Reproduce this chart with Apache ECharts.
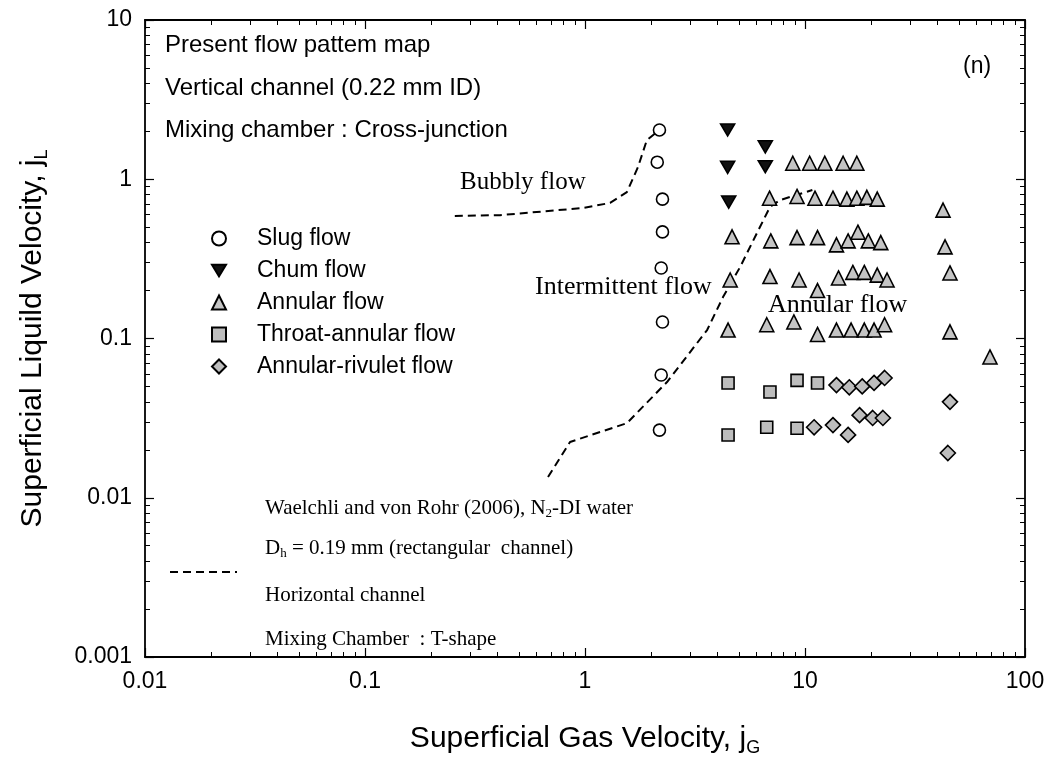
<!DOCTYPE html>
<html>
<head>
<meta charset="utf-8">
<title>Flow pattern map</title>
<script src="https://cdn.jsdelivr.net/npm/echarts@6/dist/echarts.min.js"></script>
<style>
  html, body { margin: 0; padding: 0; background: #fff; }
  #chart { width: 1052px; height: 765px; }
</style>
</head>
<body>
<div id="chart"></div>
<script>
// 轴刻度
const xTicks = [0.01, 0.1, 1, 10, 100];
const yTicks = [0.001, 0.01, 0.1, 1, 10];

// Slug flow
const slugX = [2.18, 2.13, 2.25, 2.25, 2.22, 2.25, 2.22, 2.18];
const slugY = [2.04, 1.28, 0.75, 0.467, 0.277, 0.127, 0.059, 0.0266];

// Churn flow
const churnX = [4.45, 6.6, 4.45, 6.6, 4.5];
const churnY = [2.04, 1.6, 1.19, 1.2, 0.72];

// Annular flow
const annularX = [
  8.8, 10.5, 12.3, 14.9, 17.2,
  6.9, 9.2, 11.1, 13.4, 15.5, 17.2, 19.1, 21.3, 42.4,
  4.66, 6.99, 9.2, 11.4, 13.9, 15.7, 17.4, 19.4, 22.1, 43.3,
  4.57, 6.93, 9.4, 11.4, 14.2, 16.5, 18.6, 21.3, 23.6, 45.6,
  4.47, 6.7, 8.9, 11.4, 13.9, 16.2, 18.6, 20.6, 23.0, 45.6, 69.3,
];
const annularY = [
  1.26, 1.26, 1.26, 1.26, 1.26,
  0.76, 0.78, 0.76, 0.76, 0.75, 0.76, 0.77, 0.75, 0.64,
  0.435, 0.41, 0.43, 0.43, 0.387, 0.41, 0.465, 0.41, 0.40, 0.376,
  0.233, 0.245, 0.233, 0.2, 0.24, 0.26, 0.26, 0.25, 0.233, 0.258,
  0.113, 0.122, 0.127, 0.106, 0.113, 0.113, 0.113, 0.113, 0.122, 0.11, 0.0766,
];

// Throat-annular flow
const throatX = [4.47, 6.93, 9.2, 11.4, 4.47, 6.7, 9.2];
const throatY = [0.0526, 0.0461, 0.0546, 0.0526, 0.0248, 0.0277, 0.0273];

// Annular-rivulet flow
const rivuletX = [13.9, 15.9, 18.2, 20.6, 23.0, 11.0, 13.4, 15.7, 17.7, 20.3, 22.6, 45.6, 44.6];
const rivuletY = [0.051, 0.0494, 0.05, 0.0526, 0.0565, 0.0277, 0.0286, 0.0248, 0.033, 0.0317, 0.0317, 0.04, 0.0191];

// Waelchli and von Rohr (2006) 边界线
const bubblyLineX = [0.256, 0.411, 0.98, 1.30, 1.55, 1.74, 1.91, 2.12];
const bubblyLineY = [0.588, 0.595, 0.66, 0.71, 0.83, 1.19, 1.76, 1.98];
const annularLineX = [0.679, 0.855, 1.55, 2.36, 3.59, 4.24, 5.07, 6.05, 6.93, 7.7, 10.8];
const annularLineY = [0.0135, 0.0224, 0.0294, 0.0533, 0.113, 0.182, 0.281, 0.46, 0.67, 0.74, 0.856];

const sans = "'Liberation Sans', Arial, sans-serif";
const serif = "'Liberation Serif', 'Times New Roman', serif";
// 倒三角
const downTriangle = 'path://M0,0L12,0L6,10Z';

window.onload = function () {
  const chart = echarts.init(document.getElementById('chart'));
  chart.setOption(buildOption());
};

function zip(xs, ys) {
  return xs.map((x, i) => [x, ys[i]]);
}

function fmtTick(v) {
  // 只显示十进位刻度
  const hit = xTicks.concat(yTicks).find(t => Math.abs(v / t - 1) < 1e-6);
  return hit !== undefined ? String(hit) : '';
}

function logAxis(min, max, position, showLabel) {
  return {
    type: 'log',
    logBase: 10,
    min,
    max,
    position,
    axisLine: { show: true, onZero: false, lineStyle: { color: '#000', width: 1.8 } },
    axisTick: { show: true, inside: true, length: 9, lineStyle: { color: '#000', width: 1.2 } },
    minorTick: { show: true, splitNumber: 9, length: 5, lineStyle: { color: '#000', width: 1 } },
    splitLine: { show: false },
    minorSplitLine: { show: false },
    axisLabel: {
      show: showLabel,
      formatter: fmtTick,
      color: '#000',
      fontFamily: sans,
      fontSize: 23,
      margin: 13,
    },
  };
}

function scatter(name, data, symbol, size, fill) {
  return {
    name,
    type: 'scatter',
    data,
    symbol,
    symbolSize: size,
    itemStyle: { color: fill, borderColor: '#000', borderWidth: 1.6, opacity: 1 },
    z: 5,
  };
}

function dashed(data) {
  return {
    type: 'line',
    data,
    symbol: 'none',
    smooth: false,
    lineStyle: { color: '#000', width: 2, type: [8, 5] },
    z: 3,
    silent: true,
  };
}

function label(text, x, y, font, size) {
  return {
    type: 'text',
    x,
    y,
    style: {
      text,
      fill: '#000',
      fontFamily: font,
      fontSize: size,
      verticalAlign: 'middle',
      rich: {
        sub: { fontFamily: font, fontSize: Math.round(size * 0.6), verticalAlign: 'bottom', padding: [12, 0, 0, 0] },
      },
    },
  };
}

function axisTitle(text, gap) {
  return {
    name: text,
    nameLocation: 'middle',
    nameGap: gap,
    nameTextStyle: {
      color: '#000', fontFamily: sans, fontSize: 30,
      rich: { sub: { fontFamily: sans, fontSize: 18, padding: [18, 0, 0, 0] } },
    },
  };
}

function buildOption() {
  const xMain = Object.assign(logAxis(0.01, 100, 'bottom', true),
    axisTitle('Superficial Gas Velocity, j{sub|G}', 64));
  const yMain = Object.assign(logAxis(0.001, 10, 'left', true),
    axisTitle('Superficial Liquild Velocity, j{sub|L}', 94));

  return {
    backgroundColor: '#fff',
    animation: false,
    grid: { left: 145, right: 27, top: 20, bottom: 108, containLabel: false },
    xAxis: [xMain, logAxis(0.01, 100, 'top', false)],
    yAxis: [yMain, logAxis(0.001, 10, 'right', false)],
    legend: {
      orient: 'vertical',
      left: 206,
      top: 222,
      itemWidth: 14,
      itemHeight: 14,
      itemGap: 9,
      data: ['Slug flow', 'Chum flow', 'Annular flow', 'Throat-annular flow', 'Annular-rivulet flow'],
      textStyle: { color: '#000', fontFamily: sans, fontSize: 23, padding: [0, 0, 0, 26] },
    },
    series: [
      scatter('Slug flow', zip(slugX, slugY), 'circle', 12, '#fff'),
      scatter('Chum flow', zip(churnX, churnY), downTriangle, [14, 12], '#111'),
      scatter('Annular flow', zip(annularX, annularY), 'triangle', 14, '#c4c4c4'),
      scatter('Throat-annular flow', zip(throatX, throatY), 'rect', 12, '#bdbdbd'),
      scatter('Annular-rivulet flow', zip(rivuletX, rivuletY), 'diamond', 15, '#bdbdbd'),
      dashed(zip(bubblyLineX, bubblyLineY)),
      dashed(zip(annularLineX, annularLineY)),
    ],
    graphic: [
      label('Present flow pattem map', 165, 45, sans, 24),
      label('Vertical channel (0.22 mm ID)', 165, 88, sans, 24),
      label('Mixing chamber : Cross-junction', 165, 130, sans, 24),
      label('(n)', 963, 67, sans, 23),
      label('Bubbly flow', 460, 182, serif, 25),
      label('Intermittent flow', 535, 287, serif, 26),
      label('Annular flow', 768, 305, serif, 26),
      label('Waelchli and von Rohr (2006), N{sub|2}-DI water', 265, 508, serif, 21),
      label('D{sub|h} = 0.19 mm (rectangular  channel)', 265, 548, serif, 21),
      label('Horizontal channel', 265, 595, serif, 21),
      label('Mixing Chamber  : T-shape', 265, 639, serif, 21),
      {
        type: 'line',
        shape: { x1: 170, y1: 572, x2: 237, y2: 572 },
        style: { stroke: '#000', lineWidth: 2, lineDash: [8, 5] },
      },
    ],
  };
}
</script>
</body>
</html>
